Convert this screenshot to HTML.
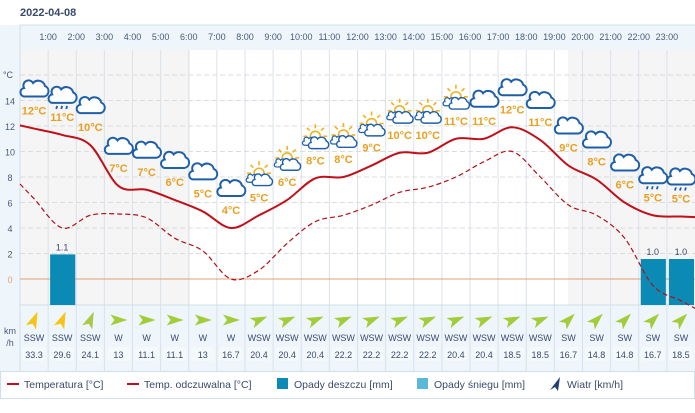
<!DOCTYPE html>
<html><head><meta charset="utf-8"><style>
body{margin:0;width:695px;height:408px;overflow:hidden;background:#fff;font-family:"Liberation Sans",sans-serif;}
svg text{font-family:"Liberation Sans",sans-serif;}
</style></head><body>
<svg id="c" width="695" height="408" xmlns="http://www.w3.org/2000/svg">
<text x="20" y="16" font-size="11" font-weight="bold" fill="#3a4a6b">2022-04-08</text>
<g id="g"></g>
</svg>
<script>
const hours=["1:00","2:00","3:00","4:00","5:00","6:00","7:00","8:00","9:00","10:00","11:00","12:00","13:00","14:00","15:00","16:00","17:00","18:00","19:00","20:00","21:00","22:00","23:00"];
const tempLabels=[12,11,10,7,7,6,5,4,5,6,8,8,9,10,10,11,11,12,11,9,8,6,5,5];
const temp=[11.8,11.3,10.5,7.3,7.0,6.2,5.3,4.0,5.0,6.2,7.9,8.0,8.9,9.9,9.9,11.0,11.0,11.9,10.9,8.9,7.8,6.0,5.0,4.9];
const feels=[6.3,4.0,5.0,5.1,4.8,3.2,2.2,0.0,0.7,2.8,4.5,5.0,5.8,6.8,7.2,8.0,9.2,10.0,8.0,5.8,5.0,3.2,-0.5,-1.7];
const icons=["c","r","c","c","c","c","c","c","s","s","s","s","s","s","s","s","c","c","c","c","c","c","r","r"];
const rain=[0,1.1,0,0,0,0,0,0,0,0,0,0,0,0,0,0,0,0,0,0,0,0,1.0,1.0];
const windDir=["SSW","SSW","SSW","W","W","W","W","W","WSW","WSW","WSW","WSW","WSW","WSW","WSW","WSW","WSW","WSW","WSW","SW","SW","SW","SW","SW"];
const windSpd=[33.3,29.6,24.1,13,11.1,11.1,13,16.7,20.4,20.4,20.4,22.2,22.2,22.2,22.2,20.4,20.4,18.5,18.5,16.7,14.8,14.8,16.7,18.5];
const yTicks=[0,2,4,6,8,10,12,14];

const NS="http://www.w3.org/2000/svg";
const g=document.getElementById('g');
const X0=20,CW=675/24;
const cx=i=>X0+CW*(i+0.5);
const ty=t=>279-t*12.75;
const ry=v=>305-v*46;
function mk(tag,attrs,parent){const e=document.createElementNS(NS,tag);for(const k in attrs)e.setAttribute(k,attrs[k]);(parent||g).appendChild(e);return e;}
function tx(x,y,s,attrs){const e=mk('text',Object.assign({x:x,y:y},attrs));e.textContent=s;return e;}

let e;
e=mk('rect',{x:0,y:25,width:695,height:365,fill:'#eef6fb'});


e=mk('rect',{x:X0,y:50,width:675,height:255,fill:'#fff'});


mk('rect',{x:X0,y:50,width:170,height:255,fill:'#f5f5f6'});
mk('rect',{x:568,y:50,width:127,height:255,fill:'#f5f5f6'});
mk('line',{x1:X0,y1:25,x2:695,y2:25,stroke:'#cfe0ea'});
mk('line',{x1:X0,y1:25,x2:X0,y2:390,stroke:'#cfe0ea'});
for(let i=1;i<24;i++){mk('line',{x1:X0+CW*i,y1:50,x2:X0+CW*i,y2:390,stroke:'#d8e2ec'});}
mk('line',{x1:X0,y1:305,x2:695,y2:305,stroke:'#cfe0ea'});
[...yTicks,16].forEach(t=>{if(t!==0)mk('line',{x1:X0,y1:ty(t),x2:695,y2:ty(t),stroke:'#dcdcdc','stroke-dasharray':'5,3'});});
e=mk('line',{x1:X0,y1:ty(0),x2:695,y2:ty(0),stroke:'#e0a070','stroke-width':1});


hours.forEach((h,i)=>{e=tx(X0+CW*(i+1),40,h,{'font-size':9,fill:'#4a5a78','text-anchor':'middle'});

});
yTicks.forEach(t=>{e=tx(10,ty(t)+4,String(t),{'font-size':9,fill:t===0?'#e0a070':'#4a5a78','text-anchor':'middle'});

});
e=tx(8,78,'°C',{'font-size':9,fill:'#4a5a78','text-anchor':'middle'});


e=tx(10,334,'km',{'font-size':9,fill:'#4a5a78','text-anchor':'middle'});


tx(10,346,'/h',{'font-size':9,fill:'#4a5a78','text-anchor':'middle'});
rain.forEach((v,i)=>{if(v>0){
e=mk('rect',{x:X0+CW*i+2,y:ry(v),width:CW-3,height:305-ry(v),fill:'#0a8ab5'});


e=tx(cx(i),ry(v)-4,v.toFixed(1),{'font-size':9,fill:'#3a4a6b','text-anchor':'middle'});

}});
function smooth(vals,fy){const p=vals.map((v,i)=>[cx(i),fy(v)]);
const f=p[0],l=p[p.length-1];const pts=[[X0,f[1]-(p[1][1]-f[1])*0.5],...p,[695,l[1]+(l[1]-p[p.length-2][1])*0.5]];
let d='M'+pts[0][0]+','+pts[0][1];
for(let i=0;i<pts.length-1;i++){const p0=pts[Math.max(0,i-1)],p1=pts[i],p2=pts[i+1],p3=pts[Math.min(pts.length-1,i+2)];
d+=` C${p1[0]+(p2[0]-p0[0])/6},${p1[1]+(p2[1]-p0[1])/6} ${p2[0]-(p3[0]-p1[0])/6},${p2[1]-(p3[1]-p1[1])/6} ${p2[0]},${p2[1]}`;}
return d;}
e=mk('path',{d:smooth(feels,ty),fill:'none',stroke:'#b01018','stroke-width':1.2,'stroke-dasharray':'5,3'});


e=mk('path',{d:smooth(temp,ty),fill:'none',stroke:'#c0101a','stroke-width':2});


const cloud='M-10,6 h20 a5.5,5.5 0 0 0 1,-10.5 a7,7 0 0 0 -12,-3 a5,5 0 0 0 -9,5 a4.3,4.3 0 0 0 0,8.5z';
function icon(kind,x,y){const gg=mk('g',{transform:`translate(${x},${y})`});
if(kind==='s'){mk('circle',{cx:0,cy:-4,r:5,fill:'none',stroke:'#f2b120','stroke-width':1.6},gg);
for(let a=0;a<=180;a+=45){const r=a*Math.PI/180;mk('line',{x1:8*Math.cos(r),y1:-4-8*Math.sin(r),x2:12*Math.cos(r),y2:-4-12*Math.sin(r),stroke:'#f2b120','stroke-width':1.6},gg);}
mk('path',{d:cloud,transform:'translate(-6,2) scale(0.5)',fill:'#fff',stroke:'#1f5fa8','stroke-width':2.4},gg);
mk('path',{d:cloud,transform:'translate(3,4) scale(0.72)',fill:'#fff',stroke:'#1f5fa8','stroke-width':2},gg);}
else{mk('path',{d:cloud,fill:'#fff',stroke:'#1f5fa8','stroke-width':2},gg);
if(kind==='r'){[-5,0,5].forEach(d=>{mk('path',{d:`M${d},9 l-1,3`,stroke:'#1f5fa8','stroke-width':1.8},gg);});}}
return gg;}
tempLabels.forEach((t,i)=>{const ly=ty(temp[i]);
e=icon(icons[i],cx(i),ly-38);


e=tx(cx(i),ly-14,t+'°C',{'font-size':11,'font-weight':'bold',fill:'#e8a020','text-anchor':'middle'});

});
const ang={SSW:22.5,SW:45,WSW:67.5,W:90};
windDir.forEach((d,i)=>{const s=windSpd[i];const col=s>=25?'#f6c416':(s>=23?'#a9c94a':'#a3cc3a');
e=mk('path',{d:'M0,-9 L5.5,8 L0,4 L-5.5,8Z',fill:col,transform:`translate(${cx(i)},320) rotate(${ang[d]})`});


e=tx(cx(i),341,d,{'font-size':9,fill:'#3a4a6b','text-anchor':'middle'});


mk('rect',{x:cx(i)-12,y:347,width:24,height:14,rx:4,fill:'#f4f9fc'});
e=tx(cx(i),358,String(s),{'font-size':9,fill:'#3a4a6b','text-anchor':'middle'});

});
e=mk('rect',{x:0.5,y:371.5,width:694,height:27,fill:'#fff',stroke:'#cfe0ea'});


function leg(x,sw,label,name){const gg=mk('g',{});
sw(gg,x);const t=mk('text',{x:x+17,y:388,'font-size':10.5,fill:'#3a4a6b'},gg);t.textContent=label;}
leg(7,(p,x)=>mk('line',{x1:x,y1:384,x2:x+12,y2:384,stroke:'#c0101a','stroke-width':2},p),'Temperatura [°C]','legend-temperature');
leg(127,(p,x)=>mk('line',{x1:x,y1:384,x2:x+12,y2:384,stroke:'#c0101a','stroke-width':2},p),'Temp. odczuwalna [°C]','legend-feels-like');
leg(277,(p,x)=>mk('rect',{x:x,y:378,width:11,height:11,fill:'#0a8ab5'},p),'Opady deszczu [mm]','legend-rain');
leg(417,(p,x)=>mk('rect',{x:x,y:378,width:11,height:11,fill:'#5ab8d8'},p),'Opady śniegu [mm]','legend-snow');
leg(550,(p,x)=>mk('path',{d:`M${x+10},377 L${x+8},391 L${x+5},387 L${x},390Z`,fill:'#1f3f78'},p),'Wiatr [km/h]','legend-wind');
</script>
</body></html>
